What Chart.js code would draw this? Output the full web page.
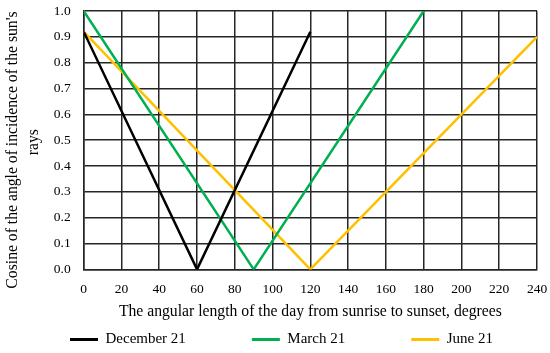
<!DOCTYPE html>
<html lang="en">
<head>
    <meta charset="UTF-8">
    <title>Cosine of incidence angle</title>
    <style>
        body { margin: 0; background: #fff; }
        .chart-container { width: 550px; height: 353px; }
    </style>
</head>
<body>
    <div class="chart-container">
        <canvas id="chart"></canvas>
    </div>

    <script src="https://cdn.jsdelivr.net/npm/chart.js@4.4.1/dist/chart.umd.js"></script>
    <script>
        // data
        const seriesNames = ['December 21', 'March 21', 'June 21'];
        const decX = [0, 60, 120];
        const decY = [0.92, 0, 0.92];
        const marX = [0, 90, 180];
        const marY = [1.0, 0, 1.0];
        const junX = [0, 120, 240];
        const junY = [0.92, 0, 0.90];
        const xTicks = [0, 20, 40, 60, 80, 100, 120, 140, 160, 180, 200, 220, 240];
        const yTicks = [0, 0.1, 0.2, 0.3, 0.4, 0.5, 0.6, 0.7, 0.8, 0.9, 1.0];

        const colors = ['#000000', '#00b050', '#ffc000'];
        const gridColor = '#262626';
        const tickFont = { family: 'Liberation Serif', size: 13.5 };
        const titleFont = { family: 'Liberation Serif', size: 15.7, lineHeight: 1.3 };
        const legendFont = { family: 'Liberation Serif', size: 15 };

        function pts(xs, ys) {
            return xs.map((x, i) => ({ x: x, y: ys[i] }));
        }

        const datasets = [pts(decX, decY), pts(marX, marY), pts(junX, junY)].map((d, i) => ({
            label: seriesNames[i],
            data: d,
            borderColor: colors[i],
            backgroundColor: colors[i],
            borderWidth: 2.5,
            pointRadius: 0,
            pointHoverRadius: 0,
            pointBorderWidth: 0,
            tension: 0
        }));

        const nb = n => '\u00a0'.repeat(n);
        // spaces after the first two labels give the wide gaps between legend items
        const gap = nb(16);

        // nudge the legend row a little to the right, as in the original
        const legendShift = {
            id: 'legendShift',
            afterLayout(chart) {
                chart.legend.left += 13;
                chart.legend.right += 13;
            }
        };

        new Chart(document.getElementById('chart'), {
            type: 'line',
            data: { datasets: datasets },
            plugins: [legendShift],
            options: {
                responsive: true,
                maintainAspectRatio: false,
                animation: false,
                layout: { autoPadding: false, padding: { left: 0, right: 13, top: 11, bottom: 0 } },
                plugins: {
                    legend: {
                        position: 'bottom',
                        maxHeight: 27,
                        labels: {
                            color: '#000',
                            font: legendFont,
                            boxWidth: 28,
                            boxHeight: 3,
                            padding: 6,
                            generateLabels: chart => {
                                const items = Chart.defaults.plugins.legend.labels.generateLabels(chart);
                                items.forEach((it, i) => {
                                    it.lineWidth = 0;
                                    if (i < items.length - 1) it.text = it.text + gap;
                                });
                                return items;
                            }
                        }
                    },
                    tooltip: { enabled: false }
                },
                scales: {
                    x: {
                        type: 'linear',
                        min: 0,
                        max: 240,
                        afterBuildTicks: axis => { axis.ticks = xTicks.map(v => ({ value: v })); },
                        grid: { color: gridColor, lineWidth: 1.5, tickLength: 12, tickColor: 'rgba(0,0,0,0)' },
                        border: { color: gridColor, width: 1.5 },
                        ticks: { color: '#000', font: tickFont, padding: 0 },
                        title: {
                            display: true,
                            text: 'The angular length of the day from sunrise to sunset, degrees',
                            color: '#000',
                            font: titleFont,
                            padding: { top: 4, bottom: 4 }
                        }
                    },
                    y: {
                        min: 0,
                        max: 1.0,
                        afterBuildTicks: axis => { axis.ticks = yTicks.map(v => ({ value: v })); },
                        grid: { color: gridColor, lineWidth: 1.5, tickLength: 13, tickColor: 'rgba(0,0,0,0)' },
                        border: { color: gridColor, width: 1.5 },
                        ticks: { color: '#000', font: tickFont, padding: 0, callback: v => v.toFixed(1) },
                        title: {
                            display: true,
                            text: ["Cosine of the angle of incidence of the sun's" + nb(5), 'rays' + nb(1)],
                            color: '#000',
                            font: titleFont,
                            padding: { top: 3, bottom: 10 }
                        }
                    }
                }
            }
        });
    </script>
</body>
</html>
